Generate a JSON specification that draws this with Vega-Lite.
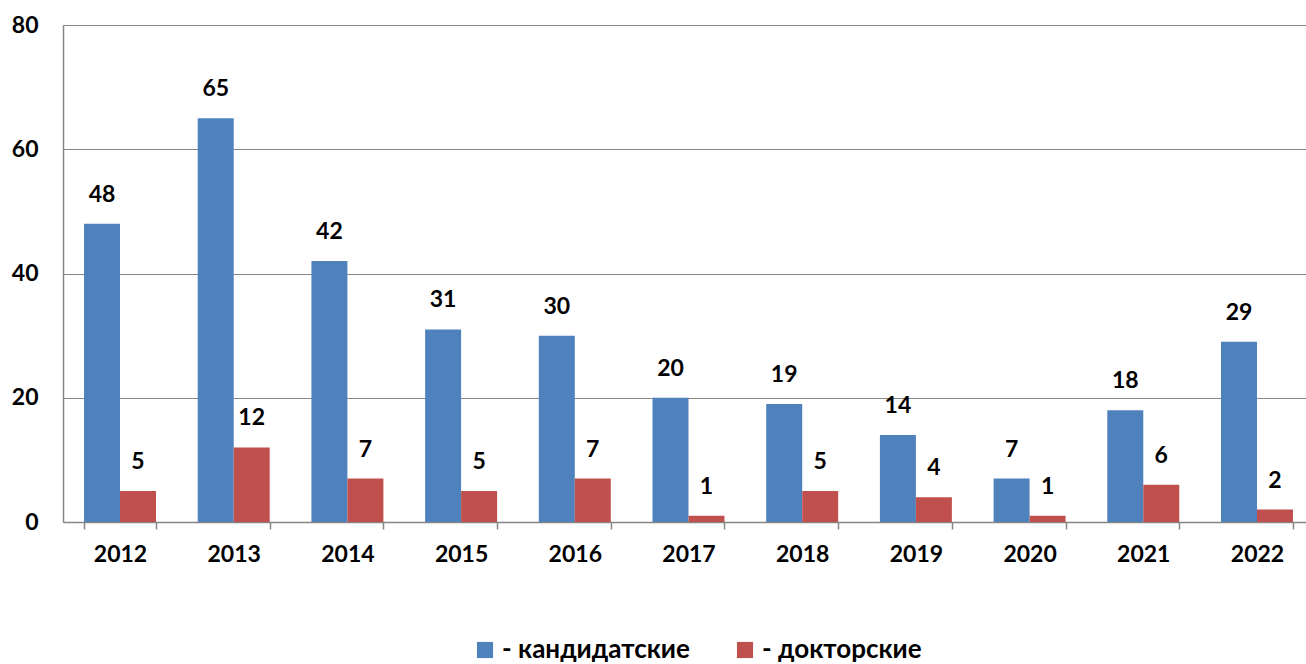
{
  "$schema": "https://vega.github.io/schema/vega-lite/v6.json",
  "autosize": "none",
  "width": 1251,
  "height": 497,
  "padding": {"left": 63, "top": 25, "right": 0, "bottom": 142},
  "background": "white",
  "config": {
    "view": {"stroke": null},
    "font": "Lato"
  },
  "data": {
    "values": [
      {"year": "2012", "type": "- кандидатские", "value": 48},
      {"year": "2012", "type": "- докторские", "value": 5},
      {"year": "2013", "type": "- кандидатские", "value": 65},
      {"year": "2013", "type": "- докторские", "value": 12},
      {"year": "2014", "type": "- кандидатские", "value": 42},
      {"year": "2014", "type": "- докторские", "value": 7},
      {"year": "2015", "type": "- кандидатские", "value": 31},
      {"year": "2015", "type": "- докторские", "value": 5},
      {"year": "2016", "type": "- кандидатские", "value": 30},
      {"year": "2016", "type": "- докторские", "value": 7},
      {"year": "2017", "type": "- кандидатские", "value": 20},
      {"year": "2017", "type": "- докторские", "value": 1},
      {"year": "2018", "type": "- кандидатские", "value": 19},
      {"year": "2018", "type": "- докторские", "value": 5},
      {"year": "2019", "type": "- кандидатские", "value": 14},
      {"year": "2019", "type": "- докторские", "value": 4},
      {"year": "2020", "type": "- кандидатские", "value": 7},
      {"year": "2020", "type": "- докторские", "value": 1},
      {"year": "2021", "type": "- кандидатские", "value": 18},
      {"year": "2021", "type": "- докторские", "value": 6},
      {"year": "2022", "type": "- кандидатские", "value": 29},
      {"year": "2022", "type": "- докторские", "value": 2}
    ]
  },
  "encoding": {
    "x": {
      "field": "year", "type": "nominal", "sort": null,
      "scale": {"paddingInner": 0.367, "paddingOuter": 0.185},
      "axis": {
        "title": null, "labelAngle": 0, "tickBand": "extent",
        "domainColor": "#868686", "domainWidth": 1.5,
        "tickColor": "#868686", "tickWidth": 1.5, "tickSize": 7,
        "labelFont": "Lato", "labelFontWeight": "bold", "labelFontSize": 23,
        "labelColor": "#000000", "labelPadding": 14
      }
    },
    "xOffset": {"field": "type", "type": "nominal", "sort": ["- кандидатские", "- докторские"], "scale": {"paddingInner": 0, "paddingOuter": 0}},
    "y": {
      "field": "value", "type": "quantitative",
      "scale": {"domain": [0, 80], "nice": false},
      "axis": {
        "title": null, "values": [0, 20, 40, 60, 80],
        "grid": true, "gridColor": "#868686", "gridWidth": 1.2,
        "ticks": false, "domainColor": "#868686", "domainWidth": 1.5,
        "labelFont": "Lato", "labelFontWeight": "bold", "labelFontSize": 23,
        "labelColor": "#000000", "labelPadding": 25
      }
    }
  },
  "layer": [
    {
      "mark": {"type": "bar"},
      "encoding": {
        "color": {
          "field": "type", "type": "nominal",
          "sort": ["- кандидатские", "- докторские"],
          "scale": {"domain": ["- кандидатские", "- докторские"], "range": ["#4F81BD", "#C0504D"]},
          "legend": {
            "title": null, "orient": "none", "direction": "horizontal",
            "legendX": 409, "legendY": 612,
            "symbolType": "square", "symbolSize": 260, "symbolStrokeWidth": 0,
            "symbolOpacity": 1, "labelLimit": 400,
            "labelFont": "Lato", "labelFontWeight": "bold", "labelFontSize": 26,
            "labelColor": "#000000", "columnPadding": 42, "labelOffset": 4
          }
        }
      }
    },
    {
      "mark": {"type": "text", "baseline": "bottom", "dy": -17, "font": "Lato", "fontWeight": "bold", "fontSize": 23, "color": "#000000"},
      "encoding": {
        "text": {"field": "value", "type": "quantitative"}
      }
    }
  ]
}
